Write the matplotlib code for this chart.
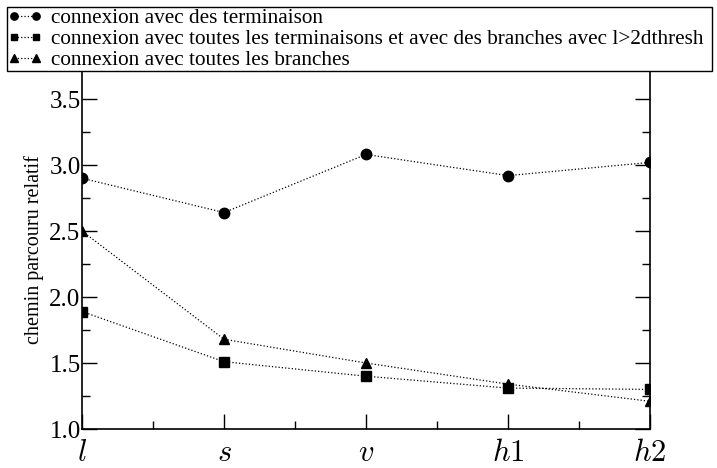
import numpy as np
import matplotlib.pyplot as plt
from matplotlib.ticker import MultipleLocator

plt.rcParams['font.family'] = ['Liberation Serif', 'DejaVu Serif']
plt.rcParams['mathtext.fontset'] = 'cm'

# categories on the x axis
etapes = ['$l$', '$s$', '$v$', '$h1$', '$h2$']

# chemin parcouru relatif pour chaque type de connexion
terminaison = [2.90, 2.64, 3.08, 2.92, 3.02]
toutes_term_branches = [1.89, 1.51, 1.40, 1.31, 1.30]
toutes_branches = [2.50, 1.68, 1.50, 1.34, 1.21]

labels = ['connexion avec des terminaison',
          'connexion avec toutes les terminaisons et avec des branches avec l>2dthresh',
          'connexion avec toutes les branches']

xx = np.arange(len(etapes))

fig = plt.figure(figsize=(7.17, 4.68), dpi=100)
ax = fig.add_axes([82/717, 1-429/468, (650-82)/717, (429-70)/468])

ax.plot(xx, terminaison, 'ko:', ms=7.5, lw=0.9, label=labels[0])
ax.plot(xx, toutes_term_branches, 'ks:', ms=7, lw=0.9, label=labels[1])
ax.plot(xx, toutes_branches, 'k^:', ms=7.5, lw=0.9, label=labels[2])

ax.set_xlim(0, 4)
ax.set_ylim(1.0, 3.72)
ax.set_xticks(xx)
ax.set_xticklabels(etapes, fontsize=22)
ax.xaxis.set_minor_locator(MultipleLocator(0.5))
ax.yaxis.set_major_locator(MultipleLocator(0.5))
ax.yaxis.set_minor_locator(MultipleLocator(0.25))
ax.yaxis.set_major_formatter(plt.FormatStrFormatter('%.1f'))
ax.tick_params(which='both', direction='in', top=False, right=True, width=1)
ax.tick_params(which='major', length=11)
ax.tick_params(which='minor', length=6)
ax.tick_params(axis='y', labelsize=18, pad=1)
ax.tick_params(axis='x', pad=7)
ax.set_ylabel('chemin parcouru relatif', fontsize=14.5, labelpad=4)
for sp in ax.spines.values():
    sp.set_linewidth(1.2)

leg = fig.legend(loc='lower left', mode='expand',
                 bbox_to_anchor=(7/717, 1-71/468, 705/717, 68/468),
                 fontsize=15.3, numpoints=2, markerscale=0.7,
                 handlelength=1.6, handletextpad=0.4,
                 borderaxespad=0, borderpad=0.05, labelspacing=0.05,
                 fancybox=False, framealpha=1, edgecolor='black')
leg.get_frame().set_linewidth(1.0)

fig.savefig('out.png', dpi=100)
